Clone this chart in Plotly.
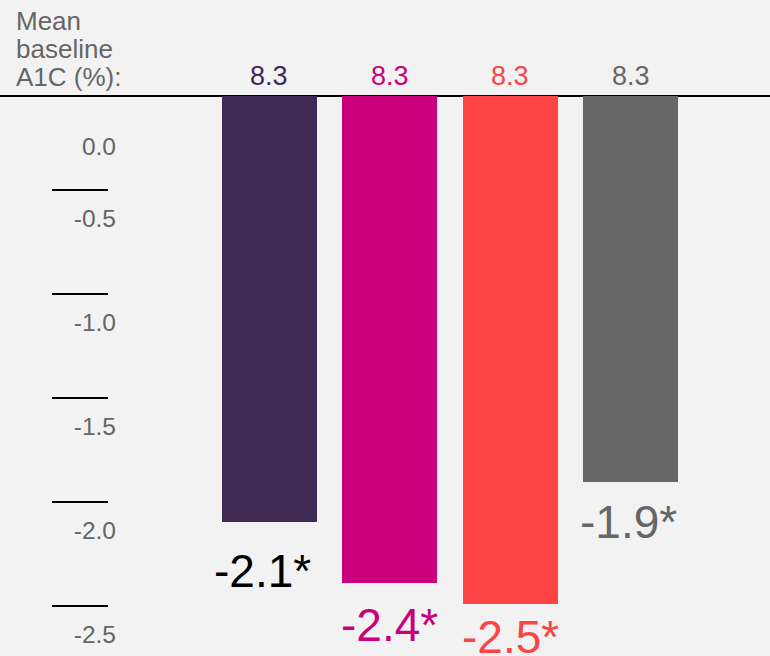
import plotly.graph_objects as go

# ---- data -------------------------------------------------------------
arms = ["Arm 1", "Arm 2", "Arm 3", "Arm 4"]
a1c_change = [-2.1, -2.4, -2.5, -1.9]          # mean change in A1C (%)
baseline_a1c = [8.3, 8.3, 8.3, 8.3]            # mean baseline A1C (%)
significant = [True, True, True, True]         # marked with an asterisk
tick_values = [0.0, -0.5, -1.0, -1.5, -2.0, -2.5]
tick_labels = ["0.0", "-0.5", "-1.0", "-1.5", "-2.0", "-2.5"]
baseline_title = ["Mean", "baseline", "A1C (%):"]

# ---- style ------------------------------------------------------------
W, H = 770, 656
BG = "#f2f2f2"
FONT = "Arial, Liberation Sans, sans-serif"
bar_colors = ["#3f2a56", "#c8007c", "#fc4445", "#666666"]
top_colors = ["#3f2a56", "#c8007c", "#fc4445", "#666666"]
value_colors = ["#000000", "#c8007c", "#fc4445", "#666666"]
AXIS_GRAY = "#666666"

# horizontal layout (pixels)
SLOT = 120.6            # distance between bar centres
FIRST = 269.1           # centre of first bar
BAR_W = 95.0
# vertical layout (pixels)
ZERO_PX = 96.0          # baseline of bars
PX_PER_UNIT = 203.0
TICK_ZERO_PX = 86.0     # scale for the left-hand tick marks
TICK_PX_PER_UNIT = 208.0

# label placement tweaks (pixels below bar end / sideways)
value_drop = [49, 42, 33, 40]
value_xshift = [-7, 0, 0, -2]
tick_label_drop = [60, 28, 28, 28, 28, 28]

x_range = [-FIRST / SLOT, (W - FIRST) / SLOT]
y_range = [-(H - ZERO_PX) / PX_PER_UNIT, ZERO_PX / PX_PER_UNIT]
tick_range = [-(H - TICK_ZERO_PX) / TICK_PX_PER_UNIT, TICK_ZERO_PX / TICK_PX_PER_UNIT]

xs = list(range(len(arms)))

fig = go.Figure()
fig.add_trace(go.Bar(
    x=xs, y=a1c_change, width=BAR_W / SLOT,
    marker=dict(color=bar_colors, line=dict(width=0)),
    hovertext=arms, hoverinfo="text+y", showlegend=False,
))
# empty traces so the helper axes are drawn
fig.add_trace(go.Scatter(x=[None], y=[None], yaxis="y2", showlegend=False, hoverinfo="skip"))
fig.add_trace(go.Scatter(x=[None], y=[None], yaxis="y3", showlegend=False, hoverinfo="skip"))

annotations = []
# value labels under each bar
for i, (v, sig) in enumerate(zip(a1c_change, significant)):
    annotations.append(dict(
        x=xs[i], y=v, xref="x", yref="y",
        text=f"{v:.1f}" + ("*" if sig else ""),
        showarrow=False, yanchor="middle", xanchor="center",
        yshift=-value_drop[i], xshift=value_xshift[i],
        font=dict(family=FONT, size=46, color=value_colors[i]),
    ))
# baseline values above each bar
for i, b in enumerate(baseline_a1c):
    annotations.append(dict(
        x=xs[i], y=0, xref="x", yref="y",
        text=f"{b:.1f}", showarrow=False,
        yanchor="middle", xanchor="center", yshift=20.5,
        font=dict(family=FONT, size=27, color=top_colors[i]),
    ))
# row title
for j, line in enumerate(baseline_title):
    annotations.append(dict(
        x=14 / W, y=1 - (21 + 28 * j) / H, xref="paper", yref="paper",
        text=line, showarrow=False, xanchor="left", yanchor="middle",
        font=dict(family=FONT, size=26, color=AXIS_GRAY),
    ))

fig.update_layout(
    width=W, height=H,
    margin=dict(l=0, r=0, t=0, b=0),
    paper_bgcolor=BG, plot_bgcolor=BG,
    bargap=0,
    annotations=annotations,
    xaxis=dict(range=x_range, visible=False, fixedrange=True),
    yaxis=dict(
        range=y_range, showticklabels=False, showgrid=False, showline=False,
        zeroline=True, zerolinecolor="#000000", zerolinewidth=2, ticks="",
    ),
    yaxis2=dict(
        range=tick_range, overlaying="y", anchor="free", position=108 / W,
        tickmode="array", tickvals=tick_values[1:],
        ticks="outside", ticklen=56, tickwidth=1.5, tickcolor="#000000",
        showticklabels=False, showgrid=False, zeroline=False, showline=False,
    ),
    yaxis3=dict(
        range=tick_range, overlaying="y", anchor="free", position=116 / W,
        tickmode="array",
        tickvals=[v - d / TICK_PX_PER_UNIT for v, d in zip(tick_values, tick_label_drop)],
        ticktext=tick_labels, ticks="", ticklabelstandoff=0,
        tickfont=dict(family=FONT, size=24.5, color=AXIS_GRAY),
        showgrid=False, zeroline=False, showline=False,
    ),
)

fig.write_html("out.html")
